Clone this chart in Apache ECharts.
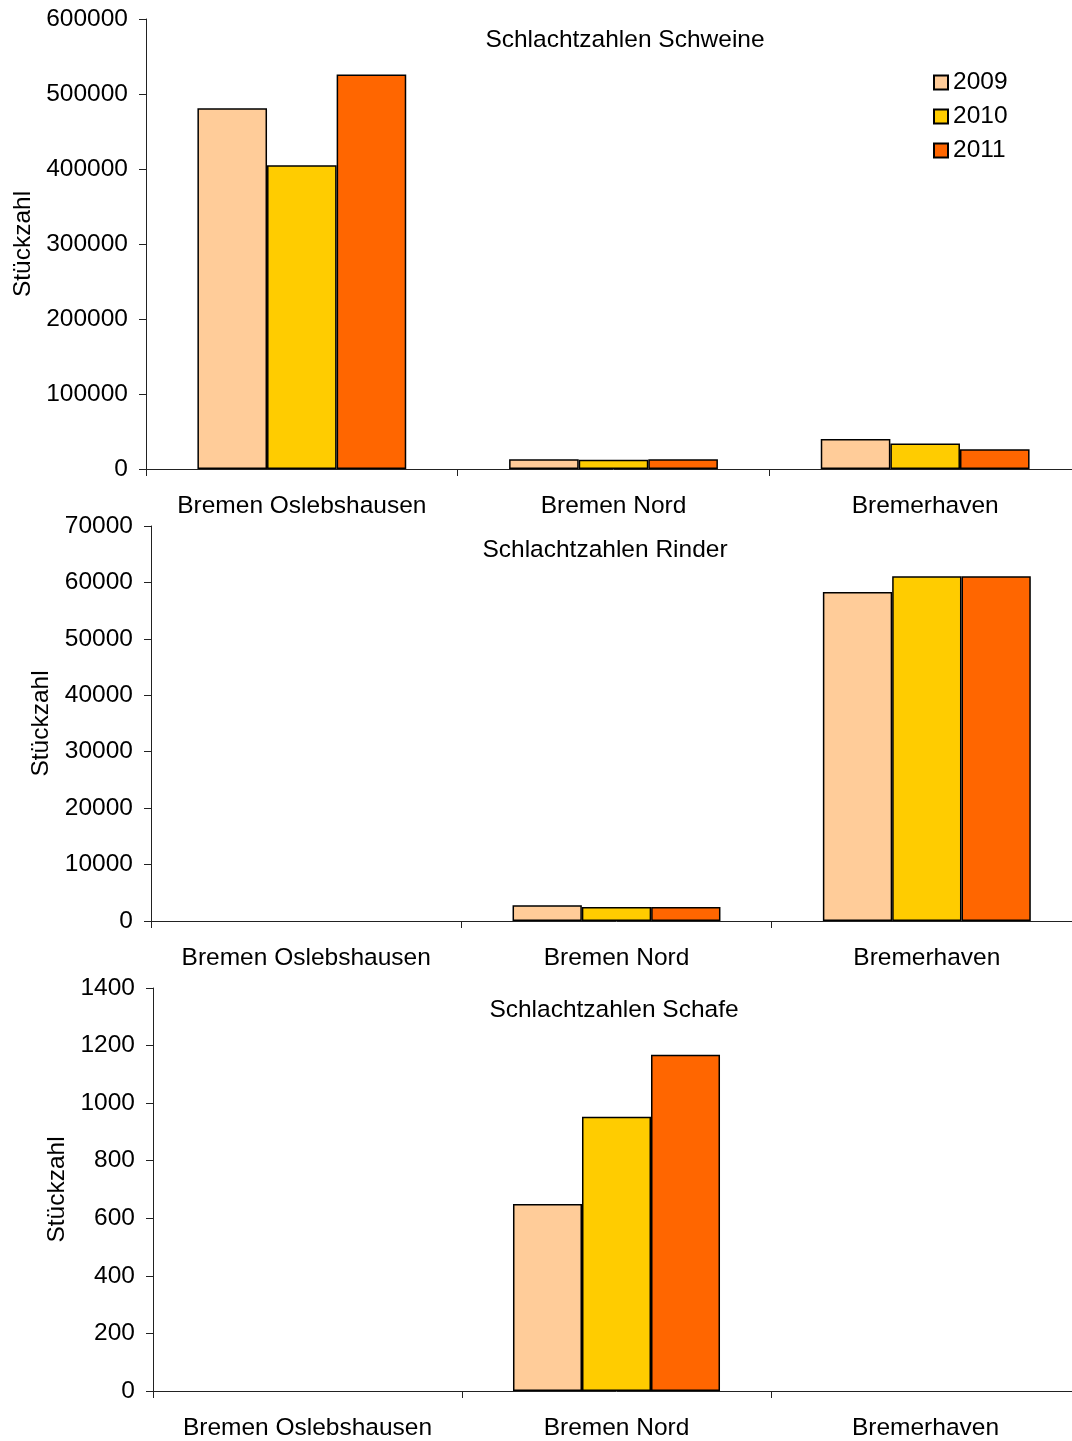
<!DOCTYPE html>
<html>
<head>
<meta charset="utf-8">
<script src="https://cdn.jsdelivr.net/npm/echarts@6/dist/echarts.min.js"></script>
<style>
  html, body { margin: 0; padding: 0; background: #fff; overflow: hidden; }
  /* plot areas run slightly past the right edge of the page */
  #chart { width: 1085px; height: 1441px; }
</style>
</head>
<body>
<div id="chart"></div>
<script>
// Slaughter counts per abattoir, years 2009–2011
const categories = ['Bremen Oslebshausen', 'Bremen Nord', 'Bremerhaven'];
const years = ['2009', '2010', '2011'];

const schweine2009 = [481000, 13000, 40000];
const schweine2010 = [405000, 12500, 34000];
const schweine2011 = [526000, 13000, 26500];

const rinder2009 = [0, 2800, 58300];
const rinder2010 = [0, 2500, 61100];
const rinder2011 = [0, 2500, 61100];

const schafe2009 = [0, 650, 0];
const schafe2010 = [0, 953, 0];
const schafe2011 = [0, 1168, 0];

const yearColors = ['#FFCC99', '#FFCC00', '#FF6600'];

const panels = [
  { title: 'Schlachtzahlen Schweine', data: [schweine2009, schweine2010, schweine2011],
    max: 600000, interval: 100000,
    grid: { left: 146, top: 19, right: 4, height: 450 }, titleX: 620, titleY: 23, nameGap: 109 },
  { title: 'Schlachtzahlen Rinder', data: [rinder2009, rinder2010, rinder2011],
    max: 70000, interval: 10000,
    grid: { left: 151, top: 526, right: 3, height: 395 }, titleX: 600, titleY: 533, nameGap: 94 },
  { title: 'Schlachtzahlen Schafe', data: [schafe2009, schafe2010, schafe2011],
    max: 1400, interval: 200,
    grid: { left: 153, top: 988, right: 5, height: 407 }, titleX: 609, titleY: 993, nameGap: 76 }
];

const fontFamily = 'Liberation Sans, Arial, sans-serif';
const fontSize = 24.5;
const axisColor = '#222';

const option = {
  animation: false,
  backgroundColor: '#fff',
  textStyle: { fontFamily: fontFamily, color: '#000' },
  title: panels.map(p => ({
    text: p.title,
    left: p.titleX, top: p.titleY,
    textAlign: 'center',
    textStyle: { fontFamily: fontFamily, fontSize: fontSize, fontWeight: 'normal', color: '#000' }
  })),
  legend: {
    data: years,
    orient: 'vertical',
    left: 928, top: 65,
    itemWidth: 14, itemHeight: 14, itemGap: 9,
    icon: 'rect',
    textStyle: { fontFamily: fontFamily, fontSize: fontSize, color: '#000', padding: [0, 0, 0, 0] }
  },
  grid: panels.map(p => p.grid),
  xAxis: panels.map((p, i) => ({
    type: 'category',
    gridIndex: i,
    data: categories,
    boundaryGap: true,
    axisLine: { lineStyle: { color: axisColor, width: 1 } },
    axisTick: { show: true, alignWithLabel: false, length: 7, lineStyle: { color: axisColor } },
    axisLabel: { fontFamily: fontFamily, fontSize: fontSize, color: '#000', margin: 25, interval: 0 },
    splitLine: { show: false }
  })),
  yAxis: panels.map((p, i) => ({
    type: 'value',
    gridIndex: i,
    min: 0, max: p.max, interval: p.interval,
    name: 'Stückzahl',
    nameLocation: 'middle',
    nameRotate: 90,
    nameGap: p.nameGap,
    nameTextStyle: { fontFamily: fontFamily, fontSize: fontSize, color: '#000' },
    axisLine: { show: true, lineStyle: { color: axisColor, width: 1 } },
    axisTick: { show: true, length: 7, lineStyle: { color: axisColor } },
    axisLabel: { fontFamily: fontFamily, fontSize: fontSize, color: '#000', margin: 18,
                 formatter: v => String(v) },
    splitLine: { show: false }
  })),
  series: []
};

panels.forEach((p, i) => {
  p.data.forEach((values, k) => {
    option.series.push({
      name: years[k],
      type: 'bar',
      xAxisIndex: i,
      yAxisIndex: i,
      // zero counts are drawn without an outline so no sliver appears on the axis
      data: values.map(v => v === 0 ? { value: v, itemStyle: { borderWidth: 0 } } : v),
      barGap: '0%',
      barCategoryGap: '33%',
      itemStyle: { color: yearColors[k], borderColor: '#000', borderWidth: 1.5 }
    });
  });
});

const chart = echarts.init(document.getElementById('chart'), null, { renderer: 'canvas' });
chart.setOption(option);
</script>
</body>
</html>
